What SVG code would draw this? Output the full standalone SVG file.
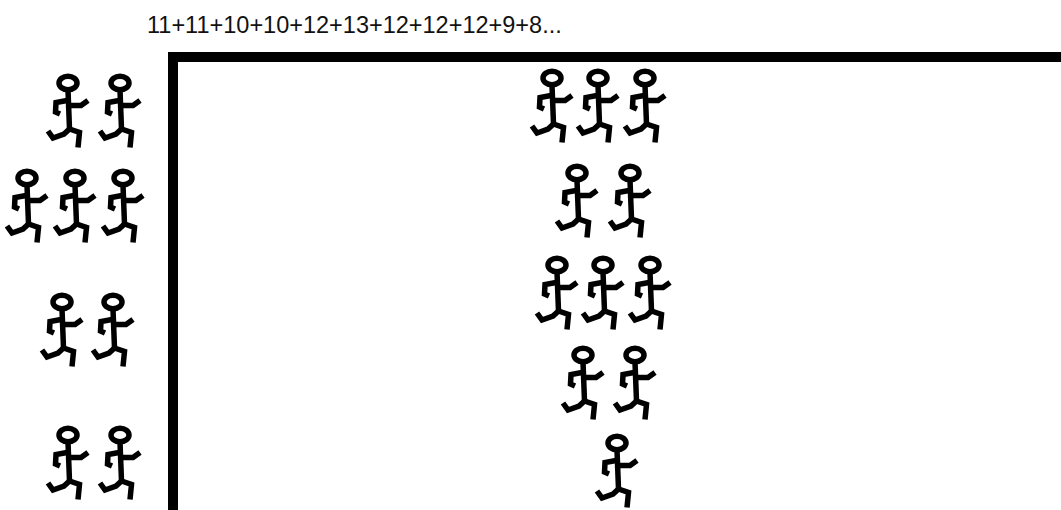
<svg xmlns="http://www.w3.org/2000/svg" xmlns:xlink="http://www.w3.org/1999/xlink" width="1061" height="510" viewBox="0 0 1061 510">
  <style>
    .label { font-family: "Liberation Sans", Arial, sans-serif; font-size: 23.5px; fill: #111; }
    .frame { fill: none; stroke: #000; stroke-width: 10; }
    .fig { fill: none; stroke: #000; stroke-width: 5.5; stroke-linejoin: miter; stroke-linecap: butt; }
  </style>
  <defs>
    <!-- running stick figure, origin at the centre of the head -->
    <g id="runner" class="fig">
      <ellipse cx="0" cy="0" rx="9" ry="6.8"/>
      <path d="M0 7 L1.5 46"/>
      <path d="M-1 17.5 L-12 19.5 L-12.5 29 L-8 31"/>
      <path d="M1.5 22.5 L13 22.5 L20 17.5"/>
      <path d="M1.5 46 L-4 51 L-15 55 L-20 48"/>
      <path d="M1.5 46 L11.5 49.5 L10 64.5"/>
    </g>
  </defs>

  <rect width="1061" height="510" fill="#fff"/>

  <text class="label" x="147" y="33">11+11+10+10+12+13+12+12+12+9+8...</text>

  <!-- box corner -->
  <g id="frame">
    <path class="frame" d="M173 510 V57 H1061"/>
  </g>

  <!-- queue outside the box -->
  <g id="queue">
    <g id="queue-row1">
      <use xlink:href="#runner" x="68" y="83"/>
      <use xlink:href="#runner" x="120" y="83"/>
    </g>
    <g id="queue-row2">
      <use xlink:href="#runner" x="27" y="178"/>
      <use xlink:href="#runner" x="75" y="178"/>
      <use xlink:href="#runner" x="123" y="178"/>
    </g>
    <g id="queue-row3">
      <use xlink:href="#runner" x="62" y="302"/>
      <use xlink:href="#runner" x="113" y="302"/>
    </g>
    <g id="queue-row4">
      <use xlink:href="#runner" x="68" y="435"/>
      <use xlink:href="#runner" x="120" y="435"/>
    </g>
  </g>

  <!-- groups inside the box -->
  <g id="inside">
    <g id="inside-row1">
      <use xlink:href="#runner" x="552" y="78"/>
      <use xlink:href="#runner" x="598" y="78"/>
      <use xlink:href="#runner" x="645" y="78"/>
    </g>
    <g id="inside-row2">
      <use xlink:href="#runner" x="577" y="173"/>
      <use xlink:href="#runner" x="630" y="173"/>
    </g>
    <g id="inside-row3">
      <use xlink:href="#runner" x="557" y="265"/>
      <use xlink:href="#runner" x="603" y="265"/>
      <use xlink:href="#runner" x="650" y="265"/>
    </g>
    <g id="inside-row4">
      <use xlink:href="#runner" x="583" y="355"/>
      <use xlink:href="#runner" x="635" y="355"/>
    </g>
    <g id="inside-row5">
      <use xlink:href="#runner" x="617" y="443"/>
    </g>
  </g>
</svg>
